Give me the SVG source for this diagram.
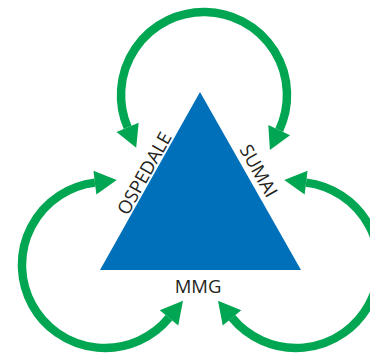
<svg xmlns="http://www.w3.org/2000/svg" width="370" height="353" viewBox="0 0 370 353">
  <style>
    .arc { fill: none; stroke: #00a651; stroke-width: 8.5; marker-start: url(#head); marker-end: url(#head); }
    .lbl { font-family: "Open Sans", "Liberation Sans", sans-serif; font-size: 18.5px; fill: #231f20; text-anchor: middle; }
  </style>
  <defs>
    <marker id="head" markerUnits="userSpaceOnUse" orient="auto-start-reverse" markerWidth="24" markerHeight="26" viewBox="0 -13 24 26" refX="0" refY="0" overflow="visible">
      <path d="M0,-12 L22,0 L0,12 Z" fill="#00a651"/>
    </marker>
  </defs>
  <rect width="370" height="353" fill="#ffffff"/>
  <g id="connectors">
    <path class="arc" d="M127.6,127.4 A83,83 0 1 1 279.2,130.1"/>
    <path class="arc" d="M94.9,182.6 A83,83 0 1 0 169,317.8"/>
    <path class="arc" d="M306.1,182.6 A83,83 0 1 1 232,317.8"/>
  </g>
  <g id="triangle">
    <polygon points="200,92 301,270 100,270" fill="#0070ba"/>
  </g>
  <g id="ospedale">
    <text class="lbl" x="150" y="176.5" transform="rotate(-60.7 150 176.5)">OSPEDALE</text>
  </g>
  <g id="sumai">
    <text class="lbl" x="253" y="174" transform="rotate(60.4 253 174)">SUMAI</text>
  </g>
  <g id="mmg">
    <text class="lbl" x="198" y="292.7">MMG</text>
  </g>
</svg>
